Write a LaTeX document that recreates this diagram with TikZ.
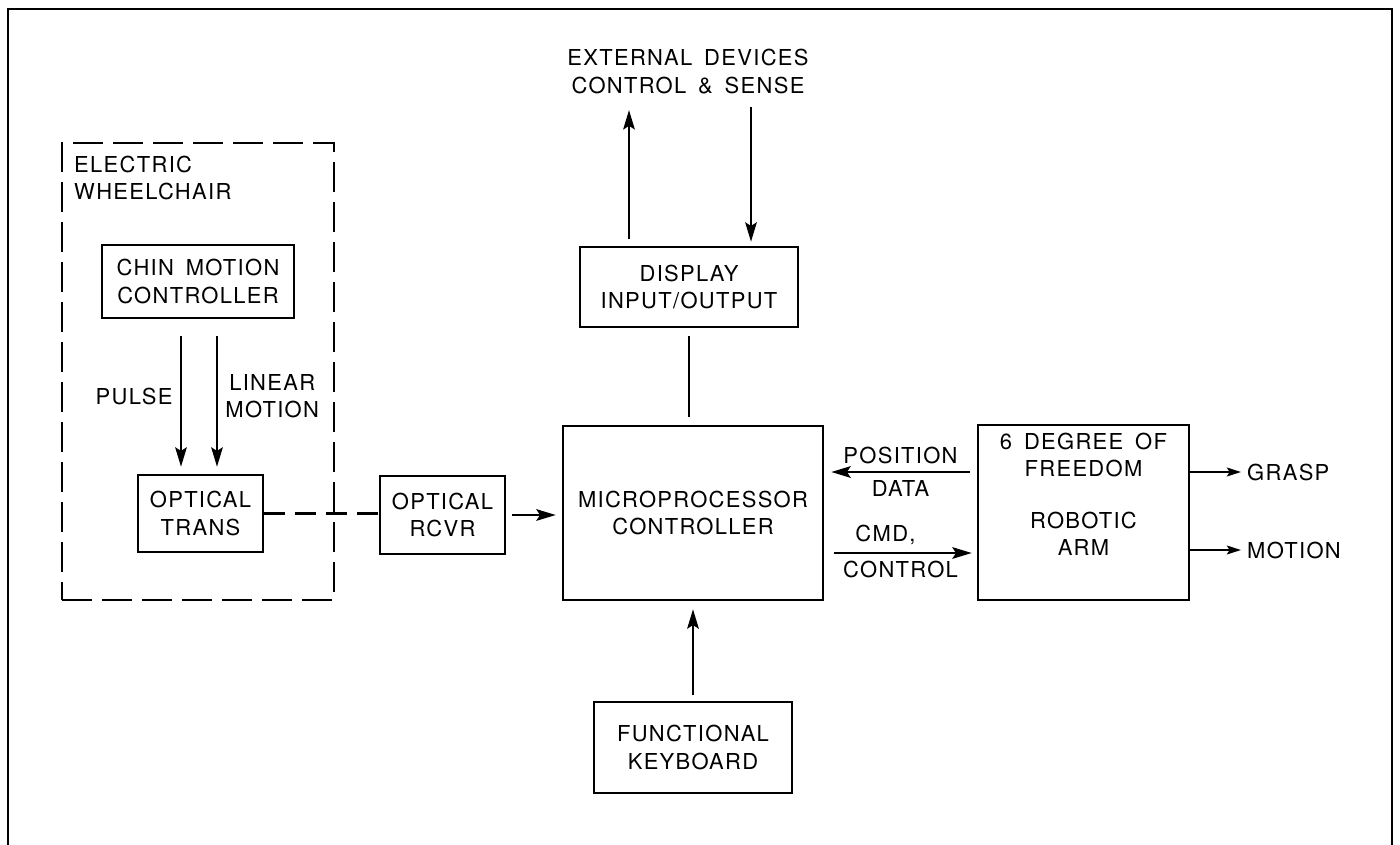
\documentclass[tikz,border=0pt]{standalone}
\usepackage{fontspec}
\setmainfont{TeX Gyre Heros}[LetterSpace=6,WordSpace=1.6]
\usetikzlibrary{arrows.meta,positioning}

\begin{document}
\begin{tikzpicture}[x=0.02cm,y=-0.02cm,
    font=\fontsize{12.5}{15.5}\selectfont,
    box/.style={draw,line width=1.4pt,inner sep=0pt,align=center},
    flow/.style={line width=1.6pt,-{Stealth[length=11pt,width=6.5pt,inset=2pt]}},
    small/.style={line width=1.3pt,-{Stealth[length=8pt,width=5pt,inset=1.5pt]}},
    lbl/.style={align=center,inner sep=4pt}]
    \useasboundingbox (0,0) rectangle (1400,845);
    \draw[line width=0.9pt] (8,845) -- (8,9) -- (1392,9) -- (1392,845);

    % wheelchair side
    \node[draw,line width=1.3pt,dash pattern=on 0.6cm off 0.2cm,minimum width=5.44cm,minimum height=9.14cm] (chair) at (198,371.5) {};
    \node[anchor=north west,align=left,inner sep=0pt] (chairlbl) at ([xshift=0.26cm,yshift=-0.28cm]chair.north west) {ELECTRIC\\WHEELCHAIR};
    \node[box,minimum width=3.84cm,minimum height=1.46cm] (chin) at (198,281.5) {CHIN MOTION\\CONTROLLER};
    \node[box,minimum width=2.5cm,minimum height=1.54cm] (trans) at (200.5,513.5) {OPTICAL\\TRANS};
    \coordinate (pulse) at (181,0);
    \coordinate (linear) at (217,0);
    \draw[flow,shorten <=0.34cm,shorten >=0.14cm] (chin.south -| pulse) -- (trans.north -| pulse) node[lbl,midway,left] {PULSE};
    \draw[flow,shorten <=0.34cm,shorten >=0.14cm] (chin.south -| linear) -- (trans.north -| linear) node[lbl,midway,right] {LINEAR\\MOTION};

    % controller
    \node[box,minimum width=2.5cm,minimum height=1.56cm] (rcvr) at (442.5,515) {OPTICAL\\RCVR};
    \node[box,minimum width=5.2cm,minimum height=3.48cm] (micro) at (693,513) {MICROPROCESSOR\\CONTROLLER};
    \node[box,minimum width=4.36cm,minimum height=1.6cm] (display) at (689,287) {DISPLAY\\INPUT/OUTPUT};
    \node[box,minimum width=3.96cm,minimum height=1.82cm] (keyboard) at (693,747.5) {FUNCTIONAL\\KEYBOARD};
    \node[lbl] (ext) at (688,71.5) {EXTERNAL DEVICES\\CONTROL \& SENSE};
    \draw[line width=1.3pt,dash pattern=on 0.42cm off 0.2cm] (trans.east) -- (trans.east -| rcvr.west);
    \draw[flow,shorten <=0.12cm,shorten >=0.12cm] (rcvr.east) -- (rcvr.east -| micro.west);
    \draw[line width=1.6pt,shorten <=0.16cm,shorten >=0.16cm] (display.south) -- (display.south |- micro.north);
    \draw[flow,shorten <=0.12cm,shorten >=0.16cm] (keyboard) -- (micro);
    \coordinate (outend) at (629,110);
    \coordinate (inend) at (751,107);
    \draw[flow,shorten <=0.14cm] (display.north -| outend) -- (outend);
    \draw[flow,shorten >=0.08cm] (inend) -- (display.north -| inend);

    % robotic arm
    \node[box,minimum width=4.22cm,minimum height=3.5cm] (arm) at (1083.5,512.5) {};
    \node[lbl] (armtxt) at (1083.5,494) {6 DEGREE OF\\FREEDOM\\[14pt]ROBOTIC\\ARM};
    \coordinate (posrow) at (0,472);
    \coordinate (cmdrow) at (0,553);
    \draw[flow,shorten <=0.14cm,shorten >=0.14cm] (arm.west |- posrow) -- (micro.east |- posrow) node[lbl,midway,above] {POSITION} node[lbl,midway,below] {DATA};
    \draw[flow,shorten <=0.2cm,shorten >=0.1cm] (micro.east |- cmdrow) -- (arm.west |- cmdrow) node[lbl,midway,above,xshift=-0.3cm] {CMD,} node[lbl,midway,below] {CONTROL};
    \node[anchor=west] (grasp) at (1241,472) {GRASP};
    \node[anchor=west] (motion) at (1241,550) {MOTION};
    \draw[small] (arm.east |- grasp) -- (grasp);
    \draw[small] (arm.east |- motion) -- (motion);
\end{tikzpicture}
\end{document}
